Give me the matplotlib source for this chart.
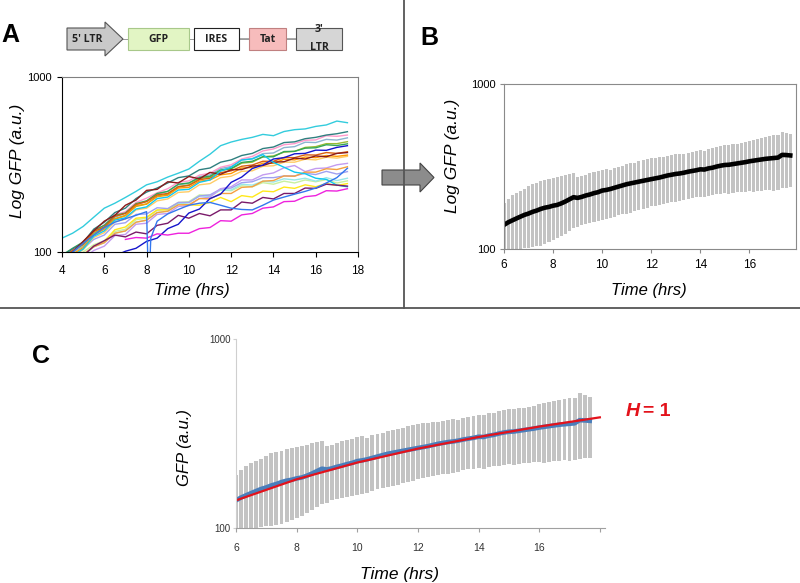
import numpy as np
import matplotlib
matplotlib.use("Agg")
import matplotlib.pyplot as plt
from matplotlib.patches import Polygon, Rectangle
from matplotlib.ticker import NullLocator

nan = np.nan

# ---------------- data: panel A single-cell traces ----------------
trace_times = [4.0, 4.5, 5.0, 5.5, 6.0, 6.5, 7.0, 7.5, 8.0, 8.5, 9.0, 9.5, 10.0, 10.5,
               11.0, 11.5, 12.0, 12.5, 13.0, 13.5, 14.0, 14.5, 15.0, 15.5, 16.0, 16.5, 17.0, 17.5]

tr_cyan = [120, 128, 140, 158, 178, 190, 205, 222, 242, 252, 268, 282, 298, 330, 362, 405, 425, 440, 452, 470, 462, 488, 500, 505, 522, 532, 560, 548]
tr_teal = [95, 104, 113, 135, 148, 168, 178, 202, 220, 232, 248, 266, 272, 295, 302, 326, 336, 356, 366, 390, 398, 422, 426, 444, 452, 466, 474, 487]
tr_pink = [92, 102, 110, 130, 143, 163, 170, 192, 203, 218, 230, 250, 255, 275, 282, 305, 315, 340, 352, 378, 388, 410, 416, 435, 437, 462, 458, 466]
tr_grayblue = [90, 99, 108, 127, 140, 158, 167, 186, 195, 214, 222, 242, 247, 270, 276, 300, 308, 335, 342, 365, 368, 395, 400, 424, 422, 440, 436, 449]
tr_olive = [94, 101, 110, 128, 138, 155, 162, 182, 188, 209, 214, 236, 242, 262, 268, 292, 298, 322, 326, 350, 354, 372, 376, 396, 400, 416, 416, 427]
tr_green = [96, 105, 114, 133, 142, 162, 167, 189, 196, 216, 222, 244, 248, 266, 271, 294, 300, 325, 330, 350, 350, 375, 376, 392, 394, 410, 406, 415]
tr_darkblue = [nan, nan, nan, nan, nan, 95, 101, 105, 115, 120, 136, 144, 167, 176, 202, 214, 250, 268, 300, 314, 340, 346, 364, 366, 382, 381, 396, 405]
tr_darkorange = [92, 102, 111, 131, 139, 160, 166, 187, 194, 212, 216, 236, 240, 259, 264, 284, 291, 309, 314, 330, 330, 347, 346, 359, 358, 370, 366, 374]
tr_maroon = [90, 100, 115, 132, 150, 162, 185, 198, 225, 228, 252, 248, 270, 262, 285, 278, 295, 296, 310, 312, 326, 328, 344, 340, 354, 350, 366, 370]
tr_orange = [88, 97, 106, 125, 135, 154, 161, 184, 188, 207, 211, 232, 234, 254, 258, 276, 281, 302, 304, 322, 321, 339, 336, 349, 346, 356, 352, 358]
tr_lightorange = [85, 95, 103, 121, 129, 149, 154, 174, 178, 196, 201, 219, 221, 242, 246, 266, 271, 289, 291, 309, 311, 326, 326, 339, 336, 348, 344, 352]
tr_lavender = [nan, nan, 92, 102, 108, 124, 126, 144, 146, 164, 166, 182, 184, 202, 206, 230, 236, 258, 258, 276, 283, 303, 312, 288, 300, 302, 315, 321]
tr_orange2 = [nan, 90, 97, 107, 113, 128, 132, 148, 152, 168, 171, 186, 186, 202, 201, 216, 216, 234, 236, 254, 256, 272, 271, 286, 286, 299, 296, 307]
tr_lightcyan = [nan, nan, 95, 107, 113, 128, 132, 148, 152, 168, 171, 189, 191, 209, 208, 226, 226, 244, 241, 254, 251, 262, 258, 264, 254, 266, 256, 264]
tr_lightgreen = [nan, 92, 100, 110, 116, 131, 135, 153, 156, 173, 176, 192, 194, 212, 211, 226, 224, 239, 236, 249, 244, 254, 248, 258, 252, 259, 248, 255]
tr_yellow = [nan, nan, 95, 108, 115, 134, 139, 156, 158, 174, 174, 190, 186, 185, 192, 205, 194, 210, 206, 223, 221, 235, 231, 242, 236, 246, 240, 246]
tr_purple = [nan, nan, 95, 108, 116, 125, 122, 130, 127, 142, 146, 162, 156, 166, 161, 174, 174, 193, 190, 205, 201, 216, 216, 232, 231, 244, 241, 238]
tr_brightcyan = [nan, 95, 104, 123, 132, 152, 157, 176, 181, 202, 206, 226, 228, 250, 258, 290, 305, 336, 340, 360, 325, 305, 286, 280, 264, 260, 241, 236]
tr_magenta = [nan, nan, nan, nan, nan, nan, 118, 121, 120, 127, 125, 128, 128, 136, 138, 151, 150, 163, 166, 178, 181, 194, 195, 207, 210, 224, 223, 230]
tr_lightpurple = [nan, 95, 104, 118, 125, 144, 147, 164, 165, 179, 177, 192, 192, 209, 212, 229, 232, 249, 252, 266, 266, 272, 272, 282, 277, 289, 279, 288]

royal_times = [4.5, 5.0, 5.5, 6.0, 6.5, 7.0, 7.5, 8.0, 8.1, 8.2, 8.5, 9.0, 9.5, 10.0, 10.5, 11.0,
               11.5, 12.0, 12.5, 13.0, 13.5, 14.0, 14.5, 15.0, 15.5, 16.0, 16.5, 17.0, 17.5]
tr_royal = [100, 112, 125, 138, 148, 155, 162, 170, 60, 120, 150, 165, 175, 185, 190, 192,
            185, 178, 175, 174, 185, 198, 206, 214, 222, 232, 248, 266, 301]

# ---------------- data: panels B/C population mean and spread ----------------
summary_start_hr = 6.0
summary_step_hr = 1.0 / 6.0   # 10-minute frames
mean_gfp = [140, 145, 149, 153, 157, 161, 164, 168, 171, 175,
            178, 180, 183, 185, 189, 194, 200, 206, 204, 207,
            211, 214, 218, 221, 226, 228, 231, 235, 239, 243,
            247, 250, 253, 256, 259, 262, 265, 268, 271, 275,
            279, 282, 285, 287, 290, 294, 297, 300, 304, 303,
            308, 311, 316, 320, 323, 324, 327, 330, 333, 336,
            340, 343, 346, 349, 352, 354, 356, 358, 372, 371,
            369]
upper_gfp = [190, 202, 212, 220, 226, 232, 240, 248, 252, 257,
             261, 264, 268, 272, 276, 280, 285, 288, 272, 276,
             282, 287, 291, 295, 302, 306, 300, 310, 316, 320,
             326, 330, 333, 340, 348, 350, 355, 358, 360, 363,
             366, 370, 375, 378, 374, 382, 387, 392, 398, 395,
             404, 408, 415, 420, 424, 426, 430, 434, 438, 444,
             452, 458, 464, 470, 475, 482, 488, 490, 515, 508,
             496]
lower_gfp = [85, 88, 92, 96, 99, 101, 102, 103, 104, 105,
             107, 110, 113, 116, 120, 124, 129, 134, 136, 140,
             142, 144, 146, 148, 150, 152, 154, 157, 160, 162,
             164, 166, 169, 172, 175, 178, 181, 183, 186, 188,
             191, 193, 194, 196, 199, 202, 204, 206, 208, 206,
             210, 212, 214, 216, 217, 216, 219, 221, 222, 223,
             224, 222, 224, 226, 227, 228, 226, 229, 233, 235,
             236]

# H = 1 model fit (panel C)
fit_times = [6, 8, 10, 12, 14, 16, 18]
fit_gfp = [140, 181, 222, 263, 303, 344, 385]

ytick_vals = [100, 1000]
ytick_labels = ["100", "1000"]
xticks_A = [4, 6, 8, 10, 12, 14, 16, 18]
xticks_B = [6, 8, 10, 12, 14, 16]
xticks_C = [6, 8, 10, 12, 14, 16, 18]
xlabels_C = ["6", "8", "10", "12", "14", "16", ""]

gene_parts = ["5' LTR", "GFP", "IRES", "Tat", "3'", "LTR"]

# ---------------- figure ----------------
W, H = 800, 583
fig = plt.figure(figsize=(8, 5.83), dpi=100)
plt.rcParams["font.family"] = ["Liberation Sans", "DejaVu Sans"]

def rect(l, t, r, b):
    return [l / W, 1 - b / H, (r - l) / W, (b - t) / H]

def fx(x):
    return x / W

def fy(y):
    return 1 - y / H

# overlay for diagram, dividers and arrow
ov = fig.add_axes([0, 0, 1, 1])
ov.set_xlim(0, W)
ov.set_ylim(H, 0)
ov.axis("off")

ov.plot([404, 404], [0, 308], color="#555555", lw=1.3)
ov.plot([0, W], [308, 308], color="#555555", lw=1.3)

# big grey arrow between A and B
ov.add_patch(Polygon([(382, 170), (420, 170), (420, 163), (434, 177.5), (420, 192),
                      (420, 185), (382, 185)], closed=True, facecolor="#8c8c8c",
                     edgecolor="#444444", lw=0.8))

# gene construct
ov.plot([123, 296], [39, 39], color="#999999", lw=0.7, zorder=1)
ov.plot([239, 249], [37.5, 37.5], color="#999999", lw=0.6, zorder=1)
ov.plot([286, 296], [37.5, 37.5], color="#999999", lw=0.6, zorder=1)
ov.add_patch(Polygon([(67, 28), (105, 28), (105, 22), (123, 39), (105, 56), (105, 50), (67, 50)],
                     closed=True, facecolor="#c9c9c9", edgecolor="#555555", lw=0.8, zorder=2))
ov.add_patch(Rectangle((128, 28), 61, 22, facecolor="#e2f5c4", edgecolor="#a8c88a", lw=0.8, zorder=2))
ov.add_patch(Rectangle((194, 28), 45, 22, facecolor="white", edgecolor="#222222", lw=0.8, zorder=2))
ov.add_patch(Rectangle((249, 28), 37, 22, facecolor="#f7bcbc", edgecolor="#c08080", lw=0.8, zorder=2))
ov.add_patch(Rectangle((296, 28), 46, 22, facecolor="#d6d6d6", edgecolor="#555555", lw=0.8, zorder=2))
gene_font = dict(family=["Open Sans", "DejaVu Sans"], weight="bold", fontsize=7.6, color="#222222")
ov.text(87, 39.5, gene_parts[0], ha="center", va="center", zorder=3, **gene_font)
ov.text(158.5, 39.5, gene_parts[1], ha="center", va="center", zorder=3, **gene_font)
ov.text(216.5, 39.5, gene_parts[2], ha="center", va="center", zorder=3, **gene_font)
ov.text(267.5, 39.5, gene_parts[3], ha="center", va="center", zorder=3, **gene_font)
ov.text(319, 30, gene_parts[4], ha="center", va="center", zorder=3, **gene_font)
ov.text(319, 48, gene_parts[5], ha="center", va="center", zorder=3, **gene_font)

# panel letters
for letter, (x, y) in zip(["A", "B", "C"], [(10, 35), (429, 38), (41, 356)]):
    ov.text(x, y, letter, ha="center", va="center", fontsize=18, weight="bold", color="black")

def log_axis(ax):
    ax.set_yscale("log")
    ax.set_ylim(100, 1000)
    ax.set_yticks(ytick_vals)
    ax.set_yticklabels(ytick_labels)
    ax.yaxis.set_minor_locator(NullLocator())

# ---------------- panel A ----------------
axA = fig.add_axes(rect(62, 77, 358, 252))
log_axis(axA)
axA.set_xlim(4, 18)
series_A = [
    (tr_lightgreen, "#c8f0a0"), (tr_yellow, "#ffe81a"), (tr_lightcyan, "#99e8e8"),
    (tr_lightpurple, "#a0a0f0"), (tr_lavender, "#c39bf0"), (tr_lightorange, "#ffcc66"),
    (tr_orange2, "#f5a040"), (tr_grayblue, "#8db4d0"), (tr_pink, "#ff99cc"),
    (tr_olive, "#99bb33"), (tr_green, "#33a655"), (tr_teal, "#2f7f7f"),
    (tr_orange, "#ff9900"), (tr_darkorange, "#d95f0e"), (tr_maroon, "#8b1a1a"),
    (tr_brightcyan, "#10c8f0"), (tr_purple, "#7a1a6a"), (tr_darkblue, "#1515cc"),
    (tr_magenta, "#ee22dd"), (tr_cyan, "#33ccdd"),
]
for vals, col in series_A:
    axA.plot(trace_times, np.array(vals, dtype=float), color=col, lw=1.0)
axA.plot(royal_times, tr_royal, color="#3377ee", lw=1.0)
axA.set_xticks(xticks_A)
axA.set_xticklabels([str(v) for v in xticks_A])
for s in ["top", "right"]:
    axA.spines[s].set_color("#808080")
for s in ["left", "bottom"]:
    axA.spines[s].set_color("black")
axA.tick_params(axis="x", direction="out", length=3.5, width=0.8, labelsize=8.5, pad=6)
axA.tick_params(axis="y", direction="out", length=3.5, width=0.8, labelsize=8, pad=4)
fig.text(fx(192), fy(290), "Time (hrs)", ha="center", va="center", fontsize=12, style="italic")
fig.text(fx(18), fy(161), "Log GFP (a.u.)", ha="center", va="center", fontsize=12.5,
         style="italic", rotation=90)

# ---------------- panel B ----------------
t_sum = summary_start_hr + summary_step_hr * np.arange(len(mean_gfp))
low = np.array(lower_gfp, dtype=float)
up = np.array(upper_gfp, dtype=float)

axB = fig.add_axes(rect(504, 84, 796, 249))
log_axis(axB)
axB.set_xlim(6, 17.9)
axB.bar(t_sum, up - low, bottom=low, width=0.125, color="#c3c3c3", edgecolor="none")
axB.plot(t_sum, mean_gfp, color="black", lw=3.3)
axB.set_xticks(xticks_B)
axB.set_xticklabels([str(v) for v in xticks_B])
for s in axB.spines.values():
    s.set_color("#8a8a8a")
axB.tick_params(axis="x", direction="out", length=3, width=0.8, labelsize=8.5, pad=4,
                color="#8a8a8a")
axB.tick_params(axis="y", direction="out", length=3, width=0.8, labelsize=8, pad=3,
                color="#8a8a8a")
fig.text(fx(649), fy(290), "Time (hrs)", ha="center", va="center", fontsize=12, style="italic")
fig.text(fx(453), fy(156), "Log GFP (a.u.)", ha="center", va="center", fontsize=12.5,
         style="italic", rotation=90)

# ---------------- panel C ----------------
axC = fig.add_axes(rect(236, 339, 605, 528))
log_axis(axC)
axC.set_xlim(6, 18.17)
axC.bar(t_sum, up - low, bottom=low, width=0.13, color="#c3c3c3", edgecolor="none")
axC.plot(t_sum, mean_gfp, color="#4a7ebb", lw=3.3)
axC.plot(fit_times, fit_gfp, color="#e3121b", lw=1.6)
axC.set_xticks(xticks_C)
axC.set_xticklabels(xlabels_C)
axC.spines["top"].set_visible(False)
axC.spines["right"].set_visible(False)
axC.spines["left"].set_color("#cfcfcf")
axC.spines["bottom"].set_color("#a0a0a0")
axC.tick_params(axis="x", direction="out", length=3, width=0.8, labelsize=7.5, pad=8,
                color="#a0a0a0", labelcolor="#333333")
axC.tick_params(axis="y", direction="out", length=2, width=0.8, labelsize=7, pad=2,
                color="#cfcfcf", labelcolor="#333333")
fig.text(fx(400), fy(574), "Time (hrs)", ha="center", va="center", fontsize=12.5, style="italic")
fig.text(fx(184), fy(448), "GFP (a.u.)", ha="center", va="center", fontsize=12,
         style="italic", rotation=90)
fig.text(fx(626), fy(412), "H", ha="left", va="center", fontsize=14, weight="bold",
         style="italic", color="#e3121b")
fig.text(fx(643), fy(412), "= 1", ha="left", va="center", fontsize=14, weight="bold",
         color="#e3121b")

fig.savefig("out.png", dpi=100)
